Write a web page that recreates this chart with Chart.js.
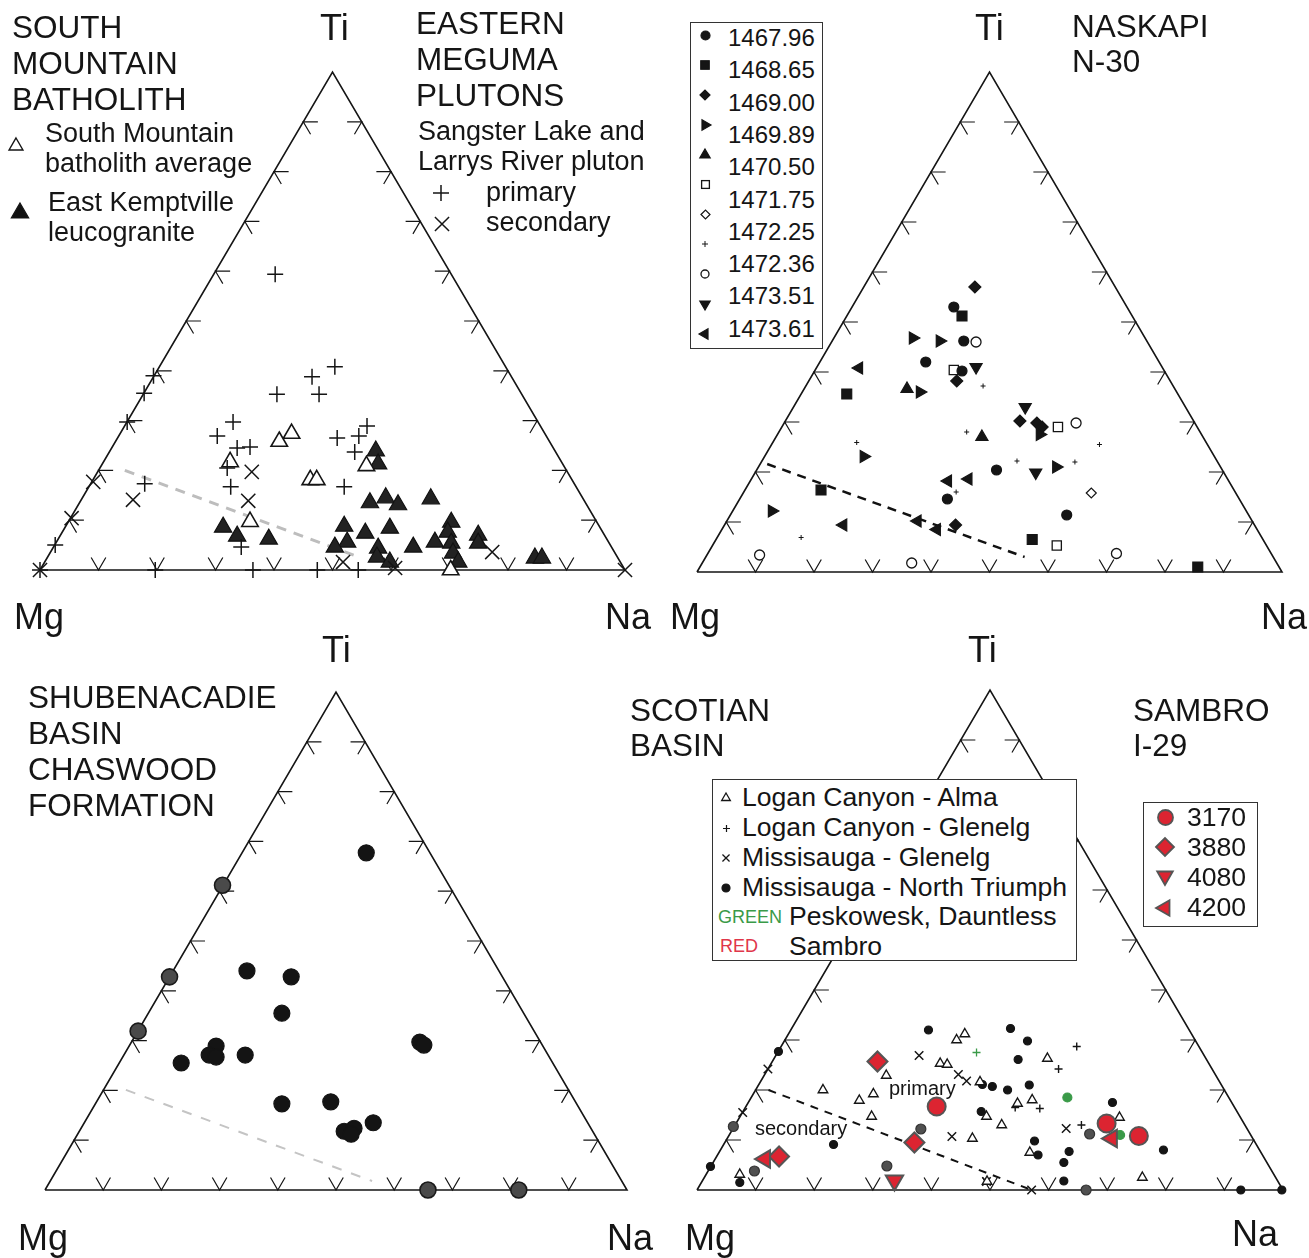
<!DOCTYPE html>
<html>
<head>
<meta charset="utf-8">
<script src="https://cdn.jsdelivr.net/npm/chart.js@4.4.1/dist/chart.umd.min.js"></script>
<style>
  html, body { margin: 0; padding: 0; background: #fff; }
  #page { position: relative; width: 1309px; height: 1258px; overflow: hidden; font-family: "Liberation Sans", Arial, sans-serif; color: #151515; }
  #page canvas { position: absolute; left: 0; top: 0; }
  .t { position: absolute; white-space: nowrap; line-height: 1; }
  .box { position: absolute; background: #fff; border: 1.5px solid #333; box-sizing: border-box; }
</style>
</head>
<body>
<div id="page">
  <canvas id="smb" width="1309" height="1258"></canvas>
  <canvas id="nask" width="1309" height="1258"></canvas>
  <canvas id="shub" width="1309" height="1258"></canvas>
  <canvas id="samb" width="1309" height="1258"></canvas>
</div>
<script>
// Mg-Ti-Na ternaries. Each point is [x, ti]: x = position along the Mg->Na base (Na + Ti/2, in %), ti = Ti in %.
const tickSteps = [10, 20, 30, 40, 50, 60, 70, 80, 90];

// South Mountain batholith / Eastern Meguma plutons
const smbAverage = [[43.0, 27.4], [40.9, 25.8], [32.5, 21.7], [46.2, 18.1], [47.3, 18.1], [35.9, 9.7], [55.8, 20.9], [70.2, 0]];
const ekLeucogranite = [[57.4, 23.9], [57.8, 21.3], [56.4, 13.5], [59.1, 14.5], [61.2, 13.1], [66.8, 14.3], [52.0, 8.8], [55.6, 7.4],
  [59.8, 8.4], [52.5, 5.6], [50.4, 4.6], [57.8, 4.4], [57.6, 2.6], [59.8, 1.6], [63.8, 4.6], [67.5, 5.6], [70.3, 9.6], [69.7, 7.6],
  [70.3, 5.4], [70.6, 3.4], [71.5, 1.6], [74.9, 7.0], [74.9, 5.4], [84.6, 2.4], [85.8, 2.4], [31.3, 8.6], [33.7, 6.8], [39.1, 6.2]];
const slPrimary = [[40.2, 59.4], [50.4, 40.8], [46.5, 38.8], [40.5, 35.3], [47.7, 35.3], [33.0, 29.7], [30.3, 26.9], [33.7, 24.5],
  [35.9, 24.7], [50.8, 26.5], [54.5, 26.9], [55.9, 28.9], [53.8, 23.7], [52.0, 16.7], [32.0, 20.5], [32.6, 16.7], [34.4, 4.6],
  [17.9, 17.3], [19.4, 39.0], [17.8, 35.5], [14.9, 29.7], [2.6, 5.0], [47.4, 0], [36.4, 0], [19.7, 0], [54.4, 0], [0, 0]];
const slSecondary = [[9.1, 17.7], [5.4, 10.4], [0, 0], [15.9, 14.1], [36.2, 19.7], [35.6, 13.9], [51.8, 1.6], [60.7, 0.4], [77.3, 3.6], [100, 0]];
const smbDivide = [[14.5, 20.0], [54.5, 2.6]];

// Naskapi N-30 (legend shows 11 symbols against 10 depth labels)
const naskapiLabels = ['1467.96', '1468.65', '1469.00', '1469.89', '1470.50', '1471.75', '1472.25', '1472.36', '1473.51', '1473.61'];
const nkCircle = [[43.9, 53.0], [45.6, 46.2], [39.1, 42.0], [45.3, 40.2], [51.2, 20.4], [42.8, 14.6], [63.2, 11.4]];
const nkSquare = [[45.3, 51.2], [25.6, 35.6], [21.2, 16.4], [57.3, 6.5], [85.6, 1.0]];
const nkDiamond = [[47.5, 57.0], [44.4, 38.2], [55.2, 30.2], [58.1, 29.8], [59.0, 29.0], [44.2, 9.4]];
const nkTriRight = [[36.9, 46.8], [41.5, 46.2], [38.1, 36.0], [58.6, 27.5], [28.5, 23.1], [61.4, 21.0], [12.8, 12.2]];
const nkTriUp = [[35.9, 36.6], [48.7, 27.0]];
const nkOpenSquare = [[43.9, 40.4], [61.7, 29.0], [61.5, 5.3]];
const nkOpenDiamond = [[67.4, 15.8]];
const nkPlus = [[48.9, 37.2], [46.1, 28.0], [27.3, 25.9], [68.8, 25.5], [54.7, 22.2], [64.6, 22.0], [44.3, 16.0], [17.8, 6.9]];
const nkOpenCircle = [[47.7, 46.0], [64.8, 29.8], [10.7, 3.4], [36.7, 1.8], [71.7, 3.7]];
const nkTriDown = [[47.7, 41.0], [56.1, 33.0], [57.9, 19.9]];
const nkTriLeft = [[27.7, 40.8], [42.9, 18.2], [46.4, 18.6], [25.0, 9.4], [37.7, 10.2], [41.0, 8.5]];
const nkDivide = [[12.0, 21.6], [56.0, 3.0]];

// Shubenacadie basin, Chaswood Formation
const chaswood = [[55.2, 67.7], [34.7, 44.0], [42.3, 42.8], [40.7, 35.5], [23.4, 25.5], [29.4, 28.9], [28.2, 27.1], [29.4, 26.7],
  [34.4, 27.1], [64.4, 29.7], [65.1, 29.1], [40.7, 17.3], [49.1, 17.7], [51.4, 11.8], [53.1, 12.4], [52.6, 11.2], [56.4, 13.5]];
const chaswoodEdge = [[30.5, 61.2], [21.4, 42.8], [16.0, 31.9], [65.8, 0], [81.4, 0]];
const chDivide = [[13.9, 20.1], [56.2, 1.8]];

// Scotian basin / Sambro I-29
const lcAlma = [[44.3, 30.0], [45.7, 31.2], [41.5, 25.3], [42.7, 25.1], [32.3, 22.9], [49.4, 14.7], [21.5, 20.0], [30.1, 19.2],
  [27.7, 17.9], [29.8, 14.7], [47.0, 10.3], [7.3, 3.1], [59.8, 26.3], [54.7, 17.3], [57.2, 18.0], [52.0, 13.0], [72.1, 14.5],
  [56.8, 7.5], [76.0, 2.5], [49.5, 1.7], [48.3, 21.6]];
const lcGlenelg = [[64.8, 28.7], [61.7, 24.2], [54.3, 16.5], [58.5, 16.3], [65.6, 13.0]];
const msGlenelg = [[37.9, 26.9], [44.6, 23.1], [46.0, 21.8], [12.1, 24.2], [7.8, 15.5], [43.5, 10.7], [49.4, 1.7], [63.0, 12.3], [57.1, 0]];
const msNorthTriumph = [[39.5, 32.0], [48.7, 21.1], [13.9, 27.7], [48.5, 15.7], [23.3, 9.1], [7.3, 1.5], [2.3, 4.7], [53.5, 32.3],
  [56.4, 29.8], [54.8, 26.1], [50.4, 20.7], [53.0, 20.0], [56.7, 21.0], [70.9, 17.5], [57.6, 9.8], [58.2, 7.0], [63.5, 7.7],
  [62.6, 5.5], [79.6, 8.0], [62.6, 1.8], [92.8, 0], [99.8, 0]];
const msNorthTriumphGrey = [[38.2, 12.2], [32.4, 4.8], [9.8, 3.8], [6.2, 12.7], [67.0, 11.2], [66.4, 0]];
const peskowesk = [[63.2, 18.5], [72.2, 11.0]];
const peskowesk2 = [[47.7, 27.5]];
const sambro3170 = [[40.9, 16.7], [69.9, 13.3], [75.4, 10.8]];
const sambro3880 = [[30.8, 25.7], [37.1, 9.5], [14.0, 6.7]];
const sambro4080 = [[33.7, 1.9]];
const sambro4200 = [[11.6, 6.2], [70.8, 10.3]];
const sambroLabels = ['3170', '3880', '4080', '4200'];
const scDivide = [[12.2, 20.0], [57.1, 0]];

const INK = '#151515';
const RED = '#dc2431';
const GREEN = '#3a9a48';
const W = 1309, H = 1258;

function pts(arr) {
  return arr.map(([x, ti]) => ({ x: x, y: ti }));
}

function series(data, style) {
  return Object.assign({
    data: pts(data), pointStyle: 'circle', pointRadius: 5,
    backgroundColor: INK, borderColor: INK, borderWidth: 1.2,
  }, style);
}

function lineSet(data, style) {
  return Object.assign({
    data: data, showLine: true, pointRadius: 0, fill: false,
    borderColor: INK, borderWidth: 1.5,
  }, style);
}

// the little "<", ">" and "V" marks every 10 % along the three sides
function tickData() {
  const s = 2.5, h = 1.25, gap = { x: NaN, y: NaN };
  const out = [];
  tickSteps.forEach(k => {
    out.push({ x: k / 2 + s, y: k }, { x: k / 2, y: k }, { x: k / 2 + h, y: k - s }, gap);
    out.push({ x: 100 - k / 2 - s, y: k }, { x: 100 - k / 2, y: k }, { x: 100 - k / 2 - h, y: k - s }, gap);
    out.push({ x: k - h, y: s }, { x: k, y: 0 }, { x: k + h, y: s }, gap);
  });
  return out;
}

function ternary(id, g, marks, divide, divideStyle) {
  const kx = (g.R - g.L) / 100, ky = (g.B - g.T) / 100;
  const datasets = marks.concat([
    lineSet(pts(divide), divideStyle),
    lineSet([{ x: 0, y: 0 }, { x: 100, y: 0 }, { x: 50, y: 100 }, { x: 0, y: 0 }], { borderWidth: 1.6 }),
    lineSet(tickData(), { borderWidth: 1.2 }),
  ]);
  new Chart(document.getElementById(id), {
    type: 'scatter',
    data: { datasets: datasets },
    options: {
      responsive: false,
      animation: false,
      devicePixelRatio: 1,
      events: [],
      layout: { padding: 0, autoPadding: false },
      plugins: { legend: { display: false }, tooltip: { enabled: false } },
      scales: {
        x: { type: 'linear', display: false, min: -g.L / kx, max: (W - g.L) / kx },
        y: { type: 'linear', display: false, min: -(H - g.B) / ky, max: g.B / ky },
      },
    },
  });
}

ternary('smb', { L: 40, R: 625, B: 570, T: 72 }, [
  series(slSecondary, { pointStyle: 'crossRot', pointRadius: 10, borderWidth: 1.5 }),
  series(slPrimary, { pointStyle: 'cross', pointRadius: 8, borderWidth: 1.5 }),
  series(smbAverage, { pointStyle: 'triangle', pointRadius: 9.5, backgroundColor: '#fff', borderWidth: 1.6 }),
  series(ekLeucogranite, { pointStyle: 'triangle', pointRadius: 10, backgroundColor: '#222', borderColor: '#111' }),
], smbDivide, { borderColor: '#bdbdbd', borderWidth: 3, borderDash: [10, 8] });

ternary('nask', { L: 697, R: 1282, B: 572, T: 72 }, [
  series(nkCircle, { pointRadius: 5 }),
  series(nkSquare, { pointStyle: 'rect', pointRadius: 7 }),
  series(nkDiamond, { pointStyle: 'rectRot', pointRadius: 6 }),
  series(nkTriRight, { pointStyle: 'triangle', pointRotation: 90, pointRadius: 7 }),
  series(nkTriUp, { pointStyle: 'triangle', pointRadius: 7 }),
  series(nkOpenSquare, { pointStyle: 'rect', pointRadius: 6.5, backgroundColor: '#fff', borderWidth: 1.3 }),
  series(nkOpenDiamond, { pointStyle: 'rectRot', pointRadius: 5, backgroundColor: '#fff', borderWidth: 1.2 }),
  series(nkPlus, { pointStyle: 'cross', pointRadius: 2.5, borderWidth: 1 }),
  series(nkOpenCircle, { pointRadius: 5, backgroundColor: '#fff', borderWidth: 1.3 }),
  series(nkTriDown, { pointStyle: 'triangle', pointRotation: 180, pointRadius: 7 }),
  series(nkTriLeft, { pointStyle: 'triangle', pointRotation: 270, pointRadius: 7 }),
], nkDivide, { borderColor: '#111', borderWidth: 2.5, borderDash: [9, 7] });

ternary('shub', { L: 45, R: 627, B: 1190, T: 692 }, [
  series(chaswood, { pointRadius: 8, backgroundColor: '#141414', borderColor: '#141414' }),
  series(chaswoodEdge, { pointRadius: 8, backgroundColor: '#4a4a4a', borderColor: '#1a1a1a', borderWidth: 1.6 }),
], chDivide, { borderColor: '#c4c4c4', borderWidth: 2, borderDash: [10, 10] });

const redStyle = { backgroundColor: RED, borderColor: '#555', borderWidth: 2 };
ternary('samb', { L: 697, R: 1283, B: 1190, T: 690 }, [
  series(sambro4200, Object.assign({ pointStyle: 'triangle', pointRotation: 270, pointRadius: 10 }, redStyle)),
  series(peskowesk, { pointRadius: 4.5, backgroundColor: GREEN, borderColor: GREEN }),
  series(sambro3170, Object.assign({ pointRadius: 9 }, redStyle)),
  series(sambro3880, Object.assign({ pointStyle: 'rectRot', pointRadius: 10 }, redStyle)),
  series(sambro4080, Object.assign({ pointStyle: 'triangle', pointRotation: 180, pointRadius: 10 }, redStyle)),
  series(peskowesk2, { pointStyle: 'cross', pointRadius: 4, borderColor: GREEN, borderWidth: 1.3 }),
  series(lcAlma, { pointStyle: 'triangle', pointRadius: 5.5, backgroundColor: '#fff', borderWidth: 1.4 }),
  series(lcGlenelg, { pointStyle: 'cross', pointRadius: 4, borderWidth: 1.4 }),
  series(msGlenelg, { pointStyle: 'crossRot', pointRadius: 6, borderWidth: 1.5 }),
  series(msNorthTriumph, { pointRadius: 4 }),
  series(msNorthTriumphGrey, { pointRadius: 5, backgroundColor: '#505050', borderColor: '#333' }),
], scDivide, { borderColor: '#111', borderWidth: 2, borderDash: [8, 7] });

// ---- text, legends ----
const page = document.getElementById('page');

function txt(s, x, cy, size, color) {
  const d = document.createElement('div');
  d.className = 't';
  d.textContent = s;
  d.style.left = x + 'px';
  d.style.top = (cy - size * 0.5) + 'px';
  d.style.fontSize = size + 'px';
  if (color) d.style.color = color;
  page.appendChild(d);
}

function box(x, y, w, h) {
  const d = document.createElement('div');
  d.className = 'box';
  Object.assign(d.style, { left: x + 'px', top: y + 'px', width: w + 'px', height: h + 'px' });
  page.appendChild(d);
}

// legend glyphs drawn with the same geometry Chart.js uses for its point styles
function sym(shape, cx, cy, r, opt) {
  const o = Object.assign({ fill: INK, stroke: INK, sw: 1.2, rot: 0 }, opt);
  const c = r + 4, s = c * 2;
  let body;
  if (shape === 'circle') body = `<circle cx="${c}" cy="${c}" r="${r}"/>`;
  else if (shape === 'rect') { const h = r * Math.SQRT1_2; body = `<rect x="${c - h}" y="${c - h}" width="${2 * h}" height="${2 * h}"/>`; }
  else if (shape === 'rectRot') body = `<polygon points="${c - r},${c} ${c},${c - r} ${c + r},${c} ${c},${c + r}"/>`;
  else if (shape === 'triangle') {
    const p = [0, 120, 240].map(a => {
      const t = (a + o.rot) * Math.PI / 180;
      return (c + r * Math.sin(t)).toFixed(2) + ',' + (c - r * Math.cos(t)).toFixed(2);
    });
    body = `<polygon points="${p.join(' ')}"/>`;
  } else if (shape === 'cross') body = `<path d="M${c - r} ${c}H${c + r}M${c} ${c - r}V${c + r}"/>`;
  else if (shape === 'crossRot') { const d = r * Math.SQRT1_2; body = `<path d="M${c - d} ${c - d}L${c + d} ${c + d}M${c + d} ${c - d}L${c - d} ${c + d}"/>`; }
  const el = document.createElement('div');
  el.innerHTML = `<svg width="${s}" height="${s}" style="position:absolute;left:${cx - c}px;top:${cy - c}px"><g fill="${o.fill}" stroke="${o.stroke}" stroke-width="${o.sw}">${body}</g></svg>`;
  page.appendChild(el.firstChild);
}

// South Mountain / Eastern Meguma
['SOUTH', 'MOUNTAIN', 'BATHOLITH'].forEach((s, i) => txt(s, 12, 28 + i * 36, 31.5));
['EASTERN', 'MEGUMA', 'PLUTONS'].forEach((s, i) => txt(s, 416, 24 + i * 36, 31.5));
txt('Ti', 320, 28, 36);
txt('Sangster Lake and', 418, 131, 27);
txt('Larrys River pluton', 418, 161, 27);
txt('primary', 486, 192, 27);
txt('secondary', 486, 222, 27);
sym('cross', 441, 193, 8, { sw: 1.5 });
sym('crossRot', 442, 224, 10, { sw: 1.5 });
txt('South Mountain', 45, 133, 27);
txt('batholith average', 45, 163, 27);
sym('triangle', 16, 146, 8, { fill: '#fff', sw: 1.4 });
txt('East Kemptville', 48, 202, 27);
txt('leucogranite', 48, 232, 27);
sym('triangle', 20, 213, 10, { fill: '#111' });
txt('Mg', 14, 617, 36);
txt('Na', 605, 617, 36);

// Naskapi
txt('Ti', 975, 28, 36);
txt('NASKAPI', 1072, 27, 31.5);
txt('N-30', 1072, 62, 31.5);
box(690, 22, 133, 327);
naskapiLabels.forEach((s, i) => txt(s, 728, 38 + i * 32.3, 24));
const nkLegend = [
  ['circle', 4.5, {}], ['rect', 6, {}], ['rectRot', 5, {}], ['triangle', 6, { rot: 90 }], ['triangle', 6, {}],
  ['rect', 5.5, { fill: '#fff', sw: 1.3 }], ['rectRot', 4.5, { fill: '#fff', sw: 1.2 }], ['cross', 3, { sw: 1 }],
  ['circle', 4, { fill: '#fff', sw: 1.3 }], ['triangle', 6, { rot: 180 }], ['triangle', 6, { rot: 270 }],
];
nkLegend.forEach(([shape, r, o], i) => sym(shape, 705, 35 + i * 29.9, r, o));
txt('Mg', 670, 617, 36);
txt('Na', 1261, 617, 36);

// Shubenacadie
txt('Ti', 322, 650, 36);
['SHUBENACADIE', 'BASIN', 'CHASWOOD', 'FORMATION'].forEach((s, i) => txt(s, 28, 698 + i * 36, 31.5));
txt('Mg', 18, 1238, 36);
txt('Na', 607, 1238, 36);

// Scotian basin / Sambro
txt('Ti', 968, 650, 36);
txt('SCOTIAN', 630, 711, 31.5);
txt('BASIN', 630, 746, 31.5);
txt('SAMBRO', 1133, 711, 31.5);
txt('I-29', 1133, 746, 31.5);
box(712, 779, 365, 182);
txt('Logan Canyon - Alma', 742, 797, 26.6);
txt('Logan Canyon - Glenelg', 742, 827, 26.6);
txt('Missisauga - Glenelg', 742, 857, 26.6);
txt('Missisauga - North Triumph', 742, 887, 26.6);
txt('GREEN', 718, 917, 18, GREEN);
txt('Peskowesk, Dauntless', 789, 916, 26.6);
txt('RED', 720, 946, 18, '#e0364a');
txt('Sambro', 789, 946, 26.6);
sym('triangle', 726, 798, 5, { fill: '#fff', sw: 1.3 });
sym('cross', 726, 828, 3.5, { sw: 1.2 });
sym('crossRot', 726, 858, 5, { sw: 1.3 });
sym('circle', 726, 888, 4, {});
box(1143, 802, 115, 125);
sambroLabels.forEach((s, i) => txt(s, 1187, 817 + i * 30, 26.6));
const redOpt = { fill: RED, stroke: '#555', sw: 1.8 };
sym('circle', 1165, 817, 7.5, redOpt);
sym('rectRot', 1165, 847, 9, redOpt);
sym('triangle', 1165, 876, 9, Object.assign({ rot: 180 }, redOpt));
sym('triangle', 1165, 908, 9, Object.assign({ rot: 270 }, redOpt));
txt('primary', 889, 1088, 20);
txt('secondary', 755, 1128, 20);
txt('Mg', 685, 1238, 36);
txt('Na', 1232, 1234, 36);
</script>
</body>
</html>
